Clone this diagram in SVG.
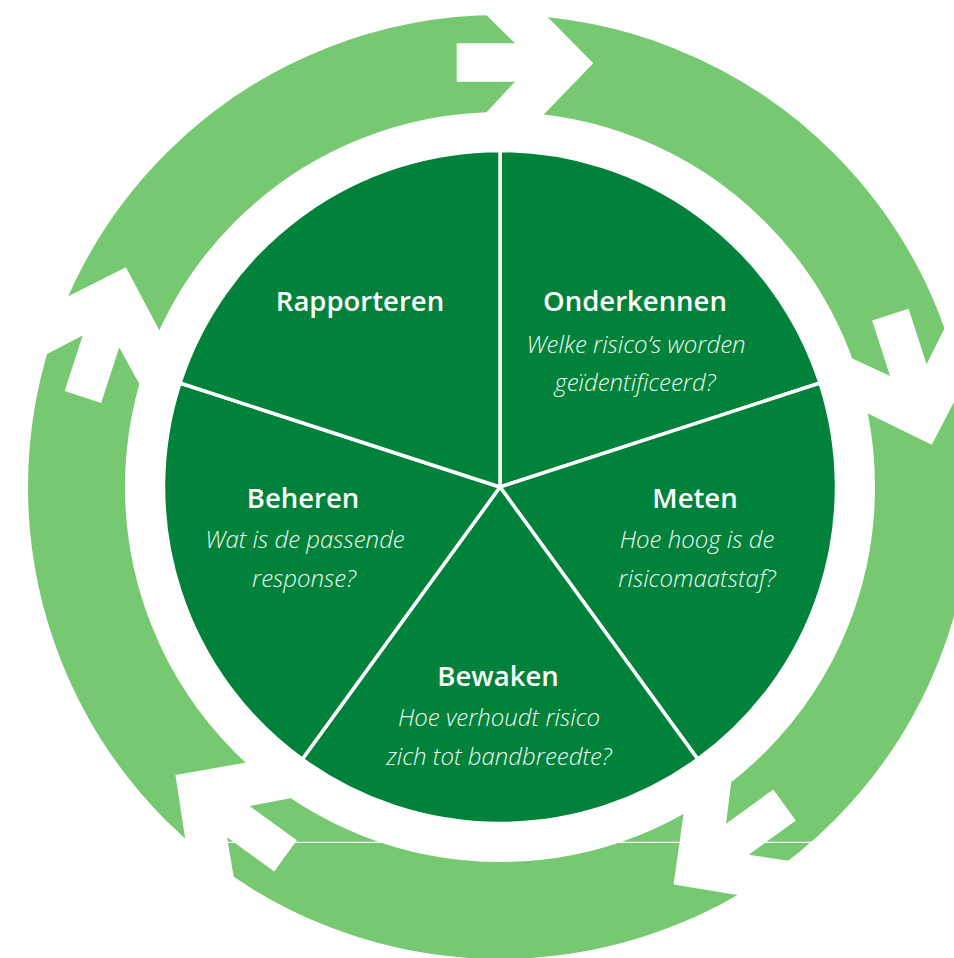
<svg xmlns="http://www.w3.org/2000/svg" width="954" height="958" viewBox="0 0 954 958">
<style>
.slice{fill:#00823b;stroke:#ffffff;stroke-width:3.5;stroke-linejoin:miter}
.ttl{font-family:"Open Sans","Liberation Sans",sans-serif;font-weight:600;font-size:27.5px;fill:#ffffff;text-anchor:middle}
.q{font-family:"Open Sans","Liberation Sans",sans-serif;font-weight:300;font-style:italic;font-size:24px;fill:#f2f8f3;text-anchor:middle}
.cut{fill:#ffffff}
</style>
<defs>
<polygon id="gap" points="471,0 530.8,0 593.3,63.3 528.8,130 470,130 515,81.7 456.7,81.7 456.7,43.3 515,43.3"/>
</defs>
<rect width="954" height="958" fill="#ffffff"/>
<g id="connectors">
<circle cx="500" cy="487" r="423.5" fill="none" stroke="#76c871" stroke-width="97"/>
<use href="#gap" class="cut"/>
<use href="#gap" class="cut" transform="rotate(72 500 487)"/>
<use href="#gap" class="cut" transform="rotate(144 500 487)"/>
<use href="#gap" class="cut" transform="rotate(216 500 487)"/>
<use href="#gap" class="cut" transform="rotate(288 500 487)"/>
<line x1="215" y1="842.3" x2="822" y2="842.3" stroke="#ffffff" stroke-width="1.2"/>
</g>
<g id="onderkennen">
<path class="slice" d="M500,487 L500,150.5 A336.5,336.5 0 0 1 820.03,383.01 Z"/>
<text class="ttl" x="635" y="311">Onderkennen</text>
<text class="q" x="636" y="352.5">Welke risico’s worden</text>
<text class="q" x="635" y="390.5">geïdentificeerd?</text>
</g>
<g id="meten">
<path class="slice" d="M500,487 L820.03,383.01 A336.5,336.5 0 0 1 697.79,759.23 Z"/>
<text class="ttl" x="695" y="508">Meten</text>
<text class="q" x="697" y="547.5">Hoe hoog is de</text>
<text class="q" x="697" y="586.5">risicomaatstaf?</text>
</g>
<g id="bewaken">
<path class="slice" d="M500,487 L697.79,759.23 A336.5,336.5 0 0 1 302.21,759.23 Z"/>
<text class="ttl" x="498" y="685.5">Bewaken</text>
<text class="q" x="499" y="725.5">Hoe verhoudt risico</text>
<text class="q" x="499" y="765">zich tot bandbreedte?</text>
</g>
<g id="beheren">
<path class="slice" d="M500,487 L302.21,759.23 A336.5,336.5 0 0 1 179.97,383.01 Z"/>
<text class="ttl" x="303" y="508">Beheren</text>
<text class="q" x="305" y="547.5">Wat is de passende</text>
<text class="q" x="304" y="586.5">response?</text>
</g>
<g id="rapporteren">
<path class="slice" d="M500,487 L179.97,383.01 A336.5,336.5 0 0 1 500,150.5 Z"/>
<text class="ttl" x="360" y="311">Rapporteren</text>
</g>
</svg>
